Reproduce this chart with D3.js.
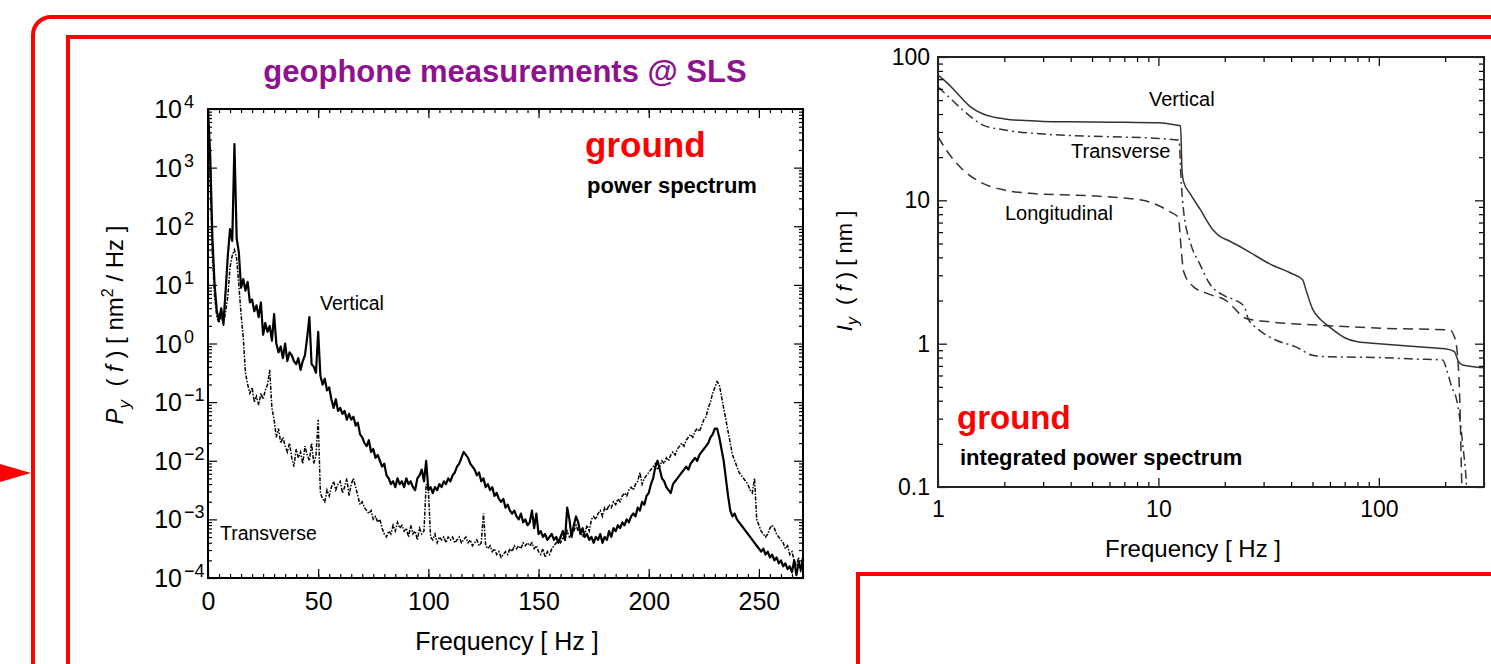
<!DOCTYPE html>
<html>
<head>
<meta charset="utf-8">
<script src="https://cdn.jsdelivr.net/npm/d3@7"></script>
<style>
  body { margin: 0; background: #fff; }
  svg { display: block; font-family: "Liberation Sans", Arial, Helvetica, sans-serif; }
</style>
</head>
<body>
<svg id="fig" width="1491" height="664"></svg>
<script>
// ---- power spectrum (left), 1 Hz grid, values are log10 of P [nm^2/Hz]
const psdFreq = d3.range(0, 271, 1);
const verticalExp = [
  4.0,3.2,1.8,1.0,0.55,0.4,0.6,0.35,0.9,1.5,
  1.95,1.75,3.4,1.8,1.55,0.95,1.1,0.9,1.05,0.7,
  0.75,0.55,0.65,0.45,0.7,0.15,0.35,0.2,0.3,0.05,
  0.5,0.0,-0.15,-0.05,-0.25,0.0,-0.3,-0.15,-0.2,-0.3,
  -0.35,-0.25,-0.45,-0.3,-0.2,0.1,0.45,-0.35,-0.4,-0.5,
  0.2,-0.55,-0.7,-0.6,-0.8,-0.75,-0.95,-1.1,-0.95,-1.15,
  -1.1,-1.2,-1.15,-1.3,-1.2,-1.3,-1.25,-1.4,-1.35,-1.55,
  -1.6,-1.7,-1.75,-1.65,-1.85,-1.8,-1.95,-1.9,-2.0,-2.1,
  -2.05,-2.25,-2.3,-2.4,-2.35,-2.45,-2.3,-2.4,-2.35,-2.45,
  -2.3,-2.4,-2.35,-2.45,-2.5,-2.3,-2.25,-2.15,-2.35,-2.0,
  -2.5,-2.45,-2.55,-2.45,-2.5,-2.4,-2.45,-2.35,-2.4,-2.3,
  -2.35,-2.25,-2.2,-2.1,-2.05,-1.95,-1.85,-1.9,-1.95,-2.05,
  -2.1,-2.15,-2.25,-2.2,-2.35,-2.3,-2.45,-2.4,-2.5,-2.45,
  -2.6,-2.55,-2.65,-2.7,-2.65,-2.8,-2.75,-2.85,-2.9,-2.85,
  -2.95,-3.0,-2.9,-3.05,-3.0,-3.1,-3.05,-2.85,-3.15,-2.9,
  -3.25,-3.2,-3.3,-3.25,-3.35,-3.3,-3.25,-3.35,-3.3,-3.4,
  -3.3,-3.2,-3.35,-2.8,-3.0,-3.3,-3.1,-2.95,-3.05,-3.25,
  -3.15,-3.3,-3.25,-3.35,-3.3,-3.4,-3.3,-3.35,-3.25,-3.4,
  -3.3,-3.35,-3.2,-3.3,-3.15,-3.2,-3.1,-3.15,-3.05,-3.1,
  -3.0,-3.05,-2.95,-2.9,-2.95,-2.8,-2.85,-2.7,-2.75,-2.6,
  -2.55,-2.4,-2.3,-2.1,-2.0,-2.15,-2.3,-2.35,-2.45,-2.5,
  -2.55,-2.4,-2.35,-2.3,-2.25,-2.2,-2.15,-2.1,-2.15,-2.05,
  -2.0,-1.95,-2.0,-1.9,-1.85,-1.8,-1.75,-1.7,-1.6,-1.55,
  -1.45,-1.45,-1.6,-1.8,-2.0,-2.3,-2.6,-2.85,-2.95,-2.9,
  -3.0,-3.05,-3.1,-3.15,-3.2,-3.25,-3.3,-3.35,-3.4,-3.45,
  -3.5,-3.55,-3.5,-3.6,-3.55,-3.65,-3.6,-3.7,-3.65,-3.75,
  -3.7,-3.8,-3.75,-3.85,-3.8,-3.9,-3.7,-3.95,-3.75,-3.85,
  -3.65
];
const transverseExp = [
  3.9,2.8,1.5,0.8,0.45,0.35,0.5,0.3,0.55,0.8,
  1.3,1.5,1.6,1.45,1.0,0.5,0.1,-0.5,-0.7,-0.85,
  -0.75,-1.0,-0.9,-1.05,-0.85,-0.95,-0.8,-0.7,-0.45,-1.1,
  -1.3,-1.6,-1.45,-1.7,-1.6,-1.75,-1.85,-1.7,-1.95,-2.1,
  -1.8,-1.95,-1.85,-2.05,-1.75,-1.9,-2.0,-1.7,-2.05,-1.9,
  -1.3,-2.55,-2.65,-2.7,-2.5,-2.6,-2.45,-2.35,-2.5,-2.4,
  -2.35,-2.55,-2.45,-2.3,-2.6,-2.4,-2.3,-2.45,-2.6,-2.75,
  -2.7,-2.8,-2.85,-2.9,-2.85,-3.0,-2.95,-3.05,-3.0,-3.15,
  -3.25,-3.3,-3.2,-3.25,-3.1,-3.2,-3.05,-3.15,-3.1,-3.2,
  -3.15,-3.3,-3.1,-3.25,-3.2,-3.35,-3.15,-3.25,-3.2,-2.4,
  -2.5,-3.3,-3.35,-3.25,-3.4,-3.3,-3.35,-3.3,-3.4,-3.3,
  -3.35,-3.3,-3.4,-3.35,-3.3,-3.4,-3.35,-3.3,-3.4,-3.35,
  -3.45,-3.4,-3.35,-3.45,-3.4,-2.9,-3.45,-3.5,-3.45,-3.55,
  -3.5,-3.6,-3.55,-3.65,-3.6,-3.55,-3.6,-3.5,-3.55,-3.45,
  -3.5,-3.45,-3.5,-3.4,-3.45,-3.4,-3.45,-3.4,-3.5,-3.45,
  -3.55,-3.6,-3.5,-3.65,-3.55,-3.6,-3.5,-3.45,-3.4,-3.35,
  -3.4,-3.3,-3.35,-3.2,-3.3,-3.25,-3.2,-3.1,-3.2,-3.15,
  -3.3,-3.25,-3.1,-3.2,-3.0,-2.95,-3.0,-2.9,-2.85,-2.95,
  -2.8,-2.85,-2.75,-2.8,-2.7,-2.75,-2.65,-2.7,-2.6,-2.55,
  -2.6,-2.5,-2.45,-2.5,-2.4,-2.35,-2.2,-2.4,-2.3,-2.25,
  -2.2,-2.15,-2.1,-2.05,-2.15,-2.1,-2.0,-2.05,-1.95,-2.0,
  -1.9,-1.85,-1.9,-1.8,-1.75,-1.7,-1.75,-1.65,-1.6,-1.55,
  -1.6,-1.5,-1.45,-1.5,-1.4,-1.3,-1.25,-1.1,-1.0,-0.85,
  -0.75,-0.65,-0.7,-0.9,-1.1,-1.3,-1.5,-1.7,-1.9,-2.0,
  -2.1,-2.2,-2.25,-2.3,-2.35,-2.4,-2.5,-2.55,-2.3,-3.0,
  -3.1,-3.2,-3.25,-3.3,-3.25,-3.15,-3.1,-3.15,-3.25,-3.3,
  -3.35,-3.4,-3.5,-3.45,-3.6,-3.55,-3.7,-3.8,-3.65,-3.9,
  -3.7
];
const psdXTicks = [0, 50, 100, 150, 200, 250];
const psdYExps = [-4, -3, -2, -1, 0, 1, 2, 3, 4];

// ---- integrated power spectrum (right), I [nm]
const vertFreqR = [1,1.1,1.2,1.4,1.6,1.8,2,2.5,3,4,5,7,10,12,12.6,12.8,13,14,15.5,17.7,19,21,25,32,40,45,47,50,55,60,70,80,100,150,200,220,230,240,300];
const vertIntR  = [74.8,66,57.5,45,40,38,37,36,35.5,35.3,35.2,35,34.8,33.5,33,16,13.5,11,8.6,6.2,5.6,5.2,4.5,3.6,3.1,2.8,2.3,1.75,1.45,1.3,1.1,1.03,1.0,0.95,0.92,0.88,0.75,0.71,0.68];
const transFreqR = [1,1.1,1.3,1.6,2,3,4,6,10,12.4,12.7,13,14,15.4,17,20,22.5,24.6,25.5,28,30,34,42,50,60,100,150,195,203,214,225,233,240,250,255];
const transIntR  = [62,54,42.5,33.5,31,29,28.3,27.8,27,26.3,13,8.5,5.0,3.6,2.65,2.15,2.0,1.8,1.5,1.28,1.18,1.06,0.95,0.83,0.81,0.80,0.78,0.77,0.66,0.5,0.41,0.3,0.2,0.1,0.05];
const longFreqR = [1,1.1,1.3,1.54,2,2.6,5.2,8.5,10,11.3,12.3,12.7,13,14.4,16.5,20.3,25,32,52,105,210,220,228,233,238,242];
const longIntR  = [27.8,22,16.3,13.5,11.8,11.2,10.7,10.0,9.2,8.3,7.6,4.5,3.2,2.5,2.25,2.0,1.5,1.42,1.35,1.28,1.245,1.12,0.8,0.4,0.1,0.05];
const intXTicks = [1, 10, 100];
const intYTicks = [0.1, 1, 10, 100];

const FONT = '"Liberation Sans", Arial, Helvetica, sans-serif';
const svg = d3.select('#fig');

// ---- red slide frames
const frames = svg.append('g').attr('fill', 'none').attr('stroke', '#ff0000').attr('stroke-width', 4);
frames.append('rect').attr('x', 33).attr('y', 17).attr('width', 1600).attr('height', 800).attr('rx', 18);
frames.append('rect').attr('x', 68).attr('y', 37).attr('width', 1600).attr('height', 800);
frames.append('rect').attr('x', 858).attr('y', 574).attr('width', 800).attr('height', 300);
svg.append('path').attr('d', 'M0,464L31,473L0,482Z').attr('fill', '#ff0000');

function styleAxis(g) {
  g.attr('font-family', FONT);
  g.select('.domain').remove();
  g.selectAll('.tick line').attr('stroke', '#000').attr('stroke-width', 1.2);
}

function logMinors(d0, d1, maxV) {
  const out = [];
  for (let d = d0; d < d1; d++) for (let k = 2; k < 10; k++) {
    const v = k * Math.pow(10, d);
    if (v <= maxV) out.push(v);
  }
  return out;
}

// =========================== LEFT: power spectrum
const xL = d3.scaleLinear().domain([0, 270]).range([208, 803]);
const yL = d3.scaleLog().domain([1e-4, 1e4]).range([578, 109]);

svg.append('clipPath').attr('id', 'clipL').append('rect')
  .attr('x', xL(0)).attr('y', yL(1e4)).attr('width', xL(270) - xL(0)).attr('height', yL(1e-4) - yL(1e4));

const lineL = d3.line().x((d, i) => xL(psdFreq[i])).y(d => yL(Math.pow(10, d)));
const plotL = svg.append('g').attr('clip-path', 'url(#clipL)');
plotL.append('path').attr('d', lineL(transverseExp))
  .attr('fill', 'none').attr('stroke', '#000').attr('stroke-width', 1.5)
  .attr('stroke-dasharray', '4,1.5,1.5,1.5');
plotL.append('path').attr('d', lineL(verticalExp))
  .attr('fill', 'none').attr('stroke', '#000').attr('stroke-width', 2.2)
  .attr('stroke-linejoin', 'round');

const decadesL = psdYExps.map(e => Math.pow(10, e));
const minorsL = logMinors(-4, 4, 1e4);
const minorXL = d3.range(0, 271, 5);

svg.append('g').attr('transform', `translate(0,${yL(1e-4)})`)
  .call(d3.axisBottom(xL).tickValues(minorXL).tickSize(-4).tickSizeOuter(0).tickFormat('')).call(styleAxis);
svg.append('g').attr('transform', `translate(0,${yL(1e-4)})`)
  .call(d3.axisBottom(xL).tickValues(psdXTicks).tickSize(-9).tickSizeOuter(0).tickPadding(14).tickFormat(d3.format('d')))
  .call(styleAxis)
  .call(g => g.selectAll('text').attr('font-size', 25).attr('fill', '#000'));
svg.append('g').attr('transform', `translate(0,${yL(1e4)})`)
  .call(d3.axisTop(xL).tickValues(minorXL).tickSize(-4).tickSizeOuter(0).tickFormat('')).call(styleAxis);
svg.append('g').attr('transform', `translate(0,${yL(1e4)})`)
  .call(d3.axisTop(xL).tickValues(psdXTicks).tickSize(-9).tickSizeOuter(0).tickFormat('')).call(styleAxis);
[[d3.axisLeft, xL(0)], [d3.axisRight, xL(270)]].forEach(([ax, x]) => {
  svg.append('g').attr('transform', `translate(${x},0)`)
    .call(ax(yL).tickValues(minorsL).tickSize(-4).tickSizeOuter(0).tickFormat('')).call(styleAxis);
  svg.append('g').attr('transform', `translate(${x},0)`)
    .call(ax(yL).tickValues(decadesL).tickSize(-9).tickSizeOuter(0).tickFormat('')).call(styleAxis);
});

svg.append('rect')
  .attr('x', xL(0)).attr('y', yL(1e4)).attr('width', xL(270) - xL(0)).attr('height', yL(1e-4) - yL(1e4))
  .attr('fill', 'none').attr('stroke', '#000').attr('stroke-width', 2);

// y tick labels 10^n
const yLab = svg.append('g').attr('font-family', FONT).attr('fill', '#000');
psdYExps.forEach(e => {
  const y = yL(Math.pow(10, e));
  yLab.append('text').attr('x', 182).attr('y', y + 9).attr('text-anchor', 'end').attr('font-size', 25).text('10');
  yLab.append('text').attr('x', 184).attr('y', y - 1).attr('font-size', 18).text(e < 0 ? '\u2212' + (-e) : String(e));
});

// texts
svg.append('text').attr('x', 505).attr('y', 82).attr('text-anchor', 'middle')
  .attr('font-size', 31).attr('font-weight', 'bold').attr('fill', '#8e1190')
  .text('geophone measurements @ SLS');
svg.append('text').attr('x', 585).attr('y', 157).attr('font-size', 35).attr('font-weight', 'bold').attr('fill', '#ff0000').text('ground');
svg.append('text').attr('x', 587).attr('y', 193).attr('font-size', 22).attr('font-weight', 'bold').attr('fill', '#000').text('power spectrum');
svg.append('text').attr('x', 320).attr('y', 310).attr('font-size', 19.5).attr('fill', '#000').text('Vertical');
svg.append('text').attr('x', 220).attr('y', 540).attr('font-size', 19.5).attr('fill', '#000').text('Transverse');
svg.append('text').attr('x', 507).attr('y', 650).attr('text-anchor', 'middle').attr('font-size', 25).attr('fill', '#000').text('Frequency [ Hz ]');

const yTitleL = svg.append('text').attr('transform', 'translate(123,325) rotate(-90)')
  .attr('text-anchor', 'middle').attr('font-size', 24).attr('fill', '#000');
yTitleL.append('tspan').attr('font-style', 'italic').text('P');
yTitleL.append('tspan').attr('dy', 7).attr('font-size', 17).attr('font-style', 'italic').text('y');
yTitleL.append('tspan').attr('dy', -7).text('\u00a0\u00a0(\u00a0');
yTitleL.append('tspan').attr('font-style', 'italic').text('f');
yTitleL.append('tspan').text('\u00a0)\u00a0[ nm');
yTitleL.append('tspan').attr('dy', -10).attr('font-size', 16).text('2');
yTitleL.append('tspan').attr('dy', 10).text('\u00a0/ Hz ]');

// =========================== RIGHT: integrated power spectrum
const xR = d3.scaleLog().domain([1, 300]).range([938, 1484]);
const yR = d3.scaleLog().domain([0.1, 100]).range([487, 57]);

svg.append('clipPath').attr('id', 'clipR').append('rect')
  .attr('x', xR(1)).attr('y', yR(100)).attr('width', xR(300) - xR(1)).attr('height', yR(0.1) - yR(100));

const plotR = svg.append('g').attr('clip-path', 'url(#clipR)')
  .attr('fill', 'none').attr('stroke', '#333').attr('stroke-width', 1.5);
const lineR = (fs) => d3.line().curve(d3.curveMonotoneX).x((d, i) => xR(fs[i])).y(d => yR(d));
plotR.append('path').attr('d', lineR(vertFreqR)(vertIntR));
plotR.append('path').attr('d', lineR(transFreqR)(transIntR)).attr('stroke-dasharray', '9,4,2,4');
plotR.append('path').attr('d', lineR(longFreqR)(longIntR)).attr('stroke-dasharray', '10,6');

const minorXR = logMinors(0, 3, 300);
const minorYR = logMinors(-1, 2, 100);
[[d3.axisBottom, yR(0.1)], [d3.axisTop, yR(100)]].forEach(([ax, y], i) => {
  svg.append('g').attr('transform', `translate(0,${y})`)
    .call(ax(xR).tickValues(minorXR).tickSize(-5).tickSizeOuter(0).tickFormat('')).call(styleAxis);
  const g = svg.append('g').attr('transform', `translate(0,${y})`)
    .call(ax(xR).tickValues(intXTicks).tickSize(-9).tickSizeOuter(0).tickPadding(14)
      .tickFormat(i === 0 ? d3.format('d') : '')).call(styleAxis);
  g.selectAll('text').attr('font-size', 23).attr('fill', '#000');
});
[[d3.axisLeft, xR(1)], [d3.axisRight, xR(300)]].forEach(([ax, x], i) => {
  svg.append('g').attr('transform', `translate(${x},0)`)
    .call(ax(yR).tickValues(minorYR).tickSize(-5).tickSizeOuter(0).tickFormat('')).call(styleAxis);
  const g = svg.append('g').attr('transform', `translate(${x},0)`)
    .call(ax(yR).tickValues(intYTicks).tickSize(-9).tickSizeOuter(0).tickPadding(8)
      .tickFormat(i === 0 ? (d => String(d)) : '')).call(styleAxis);
  g.selectAll('text').attr('font-size', 23).attr('fill', '#000');
});

svg.append('rect')
  .attr('x', xR(1)).attr('y', yR(100)).attr('width', xR(300) - xR(1)).attr('height', yR(0.1) - yR(100))
  .attr('fill', 'none').attr('stroke', '#222').attr('stroke-width', 2);

svg.append('text').attr('x', 1149).attr('y', 106).attr('font-size', 20).attr('fill', '#000').text('Vertical');
svg.append('text').attr('x', 1071).attr('y', 158).attr('font-size', 20).attr('fill', '#000').text('Transverse');
svg.append('text').attr('x', 1005).attr('y', 220).attr('font-size', 20).attr('fill', '#000').text('Longitudinal');
svg.append('text').attr('x', 957).attr('y', 429).attr('font-size', 33).attr('font-weight', 'bold').attr('fill', '#ff0000').text('ground');
svg.append('text').attr('x', 960).attr('y', 465).attr('font-size', 22).attr('font-weight', 'bold').attr('fill', '#000').text('integrated power spectrum');
svg.append('text').attr('x', 1193).attr('y', 557).attr('text-anchor', 'middle').attr('font-size', 24).attr('fill', '#000').text('Frequency [ Hz ]');

const yTitleR = svg.append('text').attr('transform', 'translate(852,271) rotate(-90)')
  .attr('text-anchor', 'middle').attr('font-size', 22).attr('fill', '#000');
yTitleR.append('tspan').attr('font-style', 'italic').text('I');
yTitleR.append('tspan').attr('dy', 6).attr('font-size', 16).attr('font-style', 'italic').text('y');
yTitleR.append('tspan').attr('dy', -6).text('\u00a0\u00a0(\u00a0');
yTitleR.append('tspan').attr('font-style', 'italic').text('f');
yTitleR.append('tspan').text('\u00a0)\u00a0[ nm ]');
</script>
</body>
</html>
